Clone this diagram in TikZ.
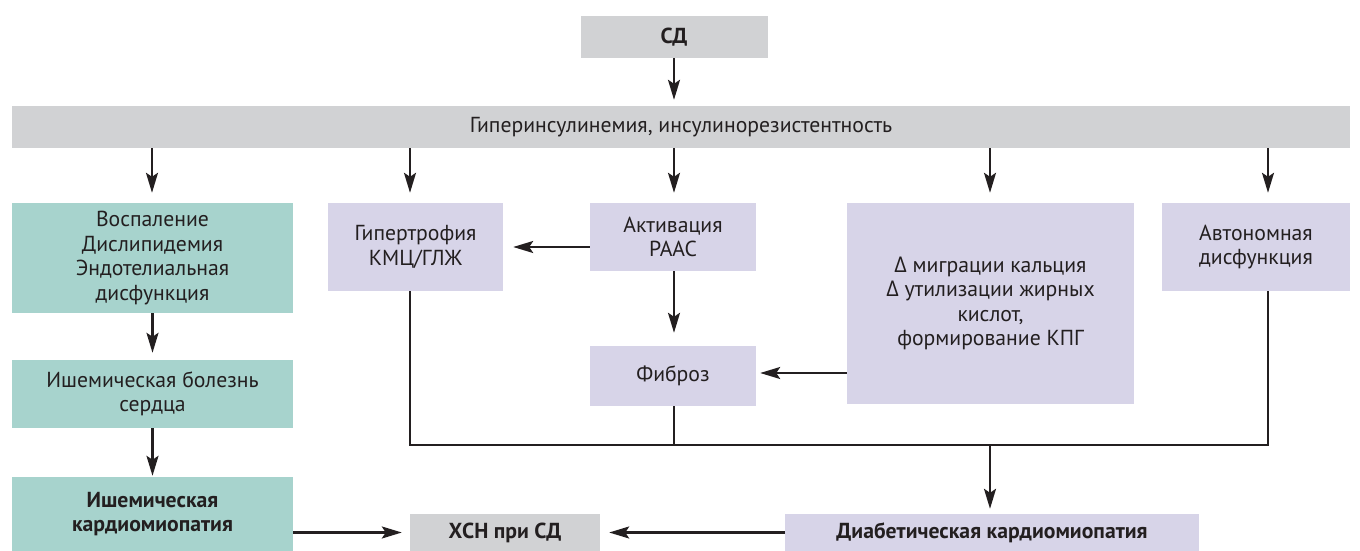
\documentclass[tikz,border=0pt]{standalone}
\usepackage{fontspec}
\setmainfont{PT Sans}
\newfontfamily\grkfont{Open Sans}
\usepackage{tikz}
\usetikzlibrary{arrows.meta,positioning,calc}
\definecolor{capgray}{RGB}{209,210,212}
\definecolor{ischteal}{RGB}{167,211,205}
\definecolor{diablilac}{RGB}{215,212,232}
\definecolor{arrowink}{RGB}{35,31,32}
\newcommand{\dlt}{{\grkfont Δ}}

\begin{document}
\begin{tikzpicture}[
    x=1pt, y=-1pt,
    block/.style={rectangle, inner sep=2pt, align=center, text=arrowink, font=\fontsize{21.7}{24.5}\selectfont},
    graybox/.style={block, fill=capgray},
    tealbox/.style={block, fill=ischteal},
    lilacbox/.style={block, fill=diablilac},
    boldtext/.style={font=\fontsize{21.7}{24.5}\selectfont\bfseries},
    arr/.style={-{Stealth[length=20pt,width=12pt,inset=4pt]}, line width=2.2pt, draw=arrowink, shorten >=7pt},
    link/.style={line width=2.2pt, draw=arrowink}
]
\useasboundingbox (0,0) rectangle (1360,551);

% Nodes
\node[graybox, boldtext, minimum width=187pt, minimum height=42pt] (sd) at (674, 37) {СД};
\node[graybox, minimum width=1338pt, minimum height=42pt] (bar) at (681, 127) {Гиперинсулинемия, инсулинорезистентность};
\node[tealbox, minimum width=281pt, minimum height=110pt] (infl) at (152.5, 258) {Воспаление\\Дислипидемия\\Эндотелиальная\\дисфункция};
\node[tealbox, minimum width=281pt, minimum height=68pt] (ihd) at (152.5, 394) {Ишемическая болезнь\\сердца};
\node[tealbox, boldtext, minimum width=281pt, minimum height=74pt] (icmp) at (152.5, 514) {Ишемическая\\кардиомиопатия};
\node[lilacbox, minimum width=175pt, minimum height=88pt] (hyp) at (415.5, 247) {Гипертрофия\\КМЦ/ГЛЖ};
\node[lilacbox, minimum width=166pt, minimum height=68pt] (raas) at (673, 237) {Активация\\РААС};
\node[lilacbox, minimum width=166pt, minimum height=60pt] (fib) at (673, 376) {Фиброз};
\node[lilacbox, minimum width=287pt, minimum height=201pt] (met) at (990.5, 303.5) {\dlt{} миграции кальция\\\dlt{} утилизации жирных\\кислот,\\формирование КПГ};
\node[lilacbox, minimum width=188pt, minimum height=88pt] (auto) at (1256, 247) {Автономная\\дисфункция};
\node[graybox, boldtext, minimum width=190pt, minimum height=37pt] (chf) at (505, 532.5) {ХСН при СД};
\node[lilacbox, boldtext, minimum width=414pt, minimum height=37pt] (dcm) at (992, 532.5) {Диабетическая кардиомиопатия};

% Columns of the arrows
\coordinate (c1) at (152, 0);
\coordinate (c2) at (410, 0);
\coordinate (c3) at (674, 0);
\coordinate (c4) at (990, 0);
\coordinate (c5) at (1268, 0);
\coordinate (bus) at (0, 445);

% Edges
\draw[arr, shorten >=6pt] (sd.south -| c3) -- (bar.north -| c3);
\draw[arr, shorten >=10pt] (bar.south -| c1) -- (infl.north -| c1);
\draw[arr, shorten >=10pt] (bar.south -| c2) -- (hyp.north -| c2);
\draw[arr, shorten >=10pt] (bar.south -| c3) -- (raas.north -| c3);
\draw[arr, shorten >=10pt] (bar.south -| c4) -- (met.north -| c4);
\draw[arr, shorten >=10pt] (bar.south -| c5) -- (auto.north -| c5);
\draw[arr] (infl) -- (ihd);
\draw[arr, shorten >=1pt] (ihd) -- (icmp);
\draw[arr, shorten >=10pt] (raas.west |- hyp) -- (hyp.east);
\draw[arr, shorten >=13pt] (raas.south -| c3) -- (fib.north -| c3);
\draw[arr, shorten >=4pt] (met.west |- 0,373) -- (fib.east |- 0,373);
\draw[link] (hyp.south -| c2) -- (bus -| c2) -- (bus -| c5) -- (auto.south -| c5);
\draw[link] (fib.south -| c3) -- (bus -| c3);
\draw[arr, shorten >=5pt] (bus -| c4) -- (dcm.north -| c4);
\draw[arr, shorten >=8pt] (icmp.east |- chf) -- (chf.west);
\draw[arr, shorten >=9pt] (dcm.west) -- (chf.east);
\end{tikzpicture}
\end{document}
